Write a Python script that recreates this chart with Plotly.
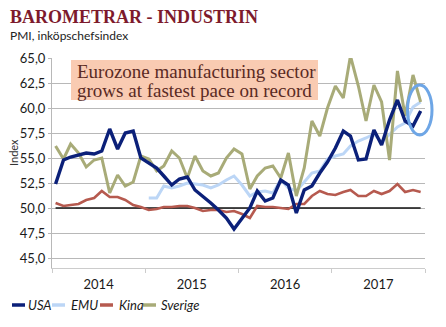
import pandas as pd
import plotly.graph_objects as go

# Monthly PMI readings, Jan 2014 - Dec 2017
months = pd.date_range("2014-01-01", periods=48, freq="MS") + pd.Timedelta(days=14)

usa = [52.4, 54.8, 55.1, 55.3, 55.5, 55.4, 55.7, 57.9, 55.9, 57.5, 57.7, 55.0,
       54.5, 54.0, 53.2, 52.3, 52.9, 53.1, 51.8, 51.2, 50.5, 49.8, 49.0, 47.9,
       48.9, 50.0, 51.7, 50.7, 51.0, 52.8, 52.3, 49.5, 51.8, 52.2, 53.5, 54.6,
       56.0, 57.7, 57.2, 54.8, 54.9, 57.8, 56.3, 58.8, 60.8, 58.7, 58.2, 59.7]

emu = [None] * 12 + [
       51.0, 51.0, 52.2, 52.0, 52.2, 52.5, 52.4, 52.3, 52.0, 52.3, 52.8, 53.2,
       52.3, 51.2, 51.6, 51.7, 51.5, 52.8, 52.0, 51.7, 52.6, 53.5, 53.7, 54.9,
       55.2, 55.4, 56.2, 56.7, 57.0, 57.4, 56.6, 57.4, 58.1, 58.5, 60.1, 60.6]

kina = [50.5, 50.2, 50.3, 50.4, 50.8, 51.0, 51.7, 51.1, 51.1, 50.8, 50.3, 50.1,
        49.8, 49.9, 50.1, 50.1, 50.2, 50.2, 50.0, 49.7, 49.8, 49.8, 49.6, 49.7,
        49.4, 49.0, 50.2, 50.1, 50.1, 50.0, 49.9, 50.4, 50.4, 51.2, 51.7, 51.4,
        51.3, 51.6, 51.8, 51.2, 51.2, 51.7, 51.4, 51.7, 52.4, 51.6, 51.8, 51.6]

sverige = [56.2, 54.9, 56.4, 55.5, 54.1, 54.8, 55.0, 51.5, 53.3, 52.2, 52.6, 55.2,
           54.9, 53.7, 54.2, 55.7, 55.0, 53.0, 55.2, 53.7, 53.2, 53.5, 55.0, 55.9,
           55.4, 51.9, 53.2, 54.0, 54.2, 53.0, 55.5, 51.2, 54.0, 58.7, 57.2, 60.0,
           62.2, 61.0, 65.2, 62.2, 58.7, 62.3, 60.6, 54.8, 63.7, 59.2, 63.3, 60.6]

threshold = [50.0] * 48

series_names = ["USA", "EMU", "Kina", "Sverige"]
series_colors = {"USA": "#0b2079", "EMU": "#bcd6f6", "Kina": "#b65a4f", "Sverige": "#a8ab78"}
y_ticks = [45.0, 47.5, 50.0, 52.5, 55.0, 57.5, 60.0, 62.5, 65.0]

# plot area in pixels (used to place the overlay texts)
W, H = 446, 327
L, R, T, B = 52, 21, 58, 59
PW, PH = W - L - R, H - T - B


def px(x):
    return (x - L) / PW


def py(y):
    return (H - B - y) / PH


fig = go.Figure()

fig.add_trace(go.Scatter(x=months, y=threshold, mode="lines",
                         line=dict(color="#111111", width=1.3),
                         hoverinfo="skip", showlegend=False))
for name, vals, width in [("Kina", kina, 2.6), ("EMU", emu, 3.0),
                          ("Sverige", sverige, 3.0), ("USA", usa, 3.4)]:
    fig.add_trace(go.Scatter(x=months, y=vals, name=name, mode="lines",
                             line=dict(color=series_colors[name], width=width),
                             showlegend=False))

fig.update_layout(
    width=W, height=H,
    margin=dict(l=L, r=R, t=T, b=B),
    paper_bgcolor="white", plot_bgcolor="white",
    separators=", ",
    font=dict(family="Lato", size=13, color="#222222"),
    xaxis=dict(type="date", range=["2014-01-01", "2018-01-01"],
               tick0="2014-01-01", dtick="M12", tickformat="%Y",
               ticklabelmode="period", showgrid=False,
               showline=True, linecolor="#cccccc", linewidth=1,
               ticks="outside", ticklen=4, tickcolor="#cccccc",
               tickfont=dict(family="Lato", size=13, color="#1a1a1a")),
    yaxis=dict(range=[44, 65], tickvals=y_ticks, tickformat=".1f",
               showgrid=True, gridcolor="#b8b8b8", gridwidth=1,
               zeroline=False, showline=True, linecolor="#b8b8b8",
               ticks="outside", ticklen=3, tickcolor="#b8b8b8",
               tickfont=dict(family="Lato", size=13, color="#1a1a1a")),
)

annotations = [
    dict(text="<b>BAROMETRAR - INDUSTRIN</b>", x=px(8), y=py(17),
         xanchor="left", yanchor="middle",
         font=dict(family="Liberation Serif", size=18, color="#7d1a2c")),
    dict(text="PMI, inköpschefsindex", x=px(8), y=py(36),
         xanchor="left", yanchor="middle",
         font=dict(family="Lato", size=12, color="#222222")),
    dict(text="Index", x=px(13), y=py(153), textangle=-90,
         xanchor="center", yanchor="middle",
         font=dict(family="Lato", size=11, color="#333333")),
    dict(text="Eurozone manufacturing sector", x=px(75), y=py(71.5),
         xanchor="left", yanchor="middle",
         font=dict(family="Liberation Serif", size=19, color="#5a2a24")),
    dict(text="grows at fastest pace on record", x=px(75), y=py(90.5),
         xanchor="left", yanchor="middle",
         font=dict(family="Liberation Serif", size=19, color="#5a2a24")),
]

shapes = [
    dict(type="rect", xref="paper", yref="paper", layer="above",
         x0=px(71), x1=px(318), y0=py(100), y1=py(60),
         fillcolor="#f9cbb2", line=dict(width=0)),
    dict(type="circle", xref="paper", yref="paper", layer="above",
         x0=px(407.5), x1=px(432), y0=py(135), y1=py(85),
         line=dict(color="#6ea6e6", width=3)),
]

# legend row below the axis
legend_pos = {"USA": (12, 26), "EMU": (52, 69), "Kina": (100, 117), "Sverige": (143, 159)}
for name in series_names:
    sx, tx = legend_pos[name]
    shapes.append(dict(type="line", xref="paper", yref="paper",
                       x0=px(sx), x1=px(sx + 13), y0=py(305), y1=py(305),
                       line=dict(color=series_colors[name], width=3.5)))
    annotations.append(dict(text=f"<i>{name}</i>", x=px(tx), y=py(305),
                            xanchor="left", yanchor="middle",
                            font=dict(family="Lato", size=13, color="#1a1a1a")))

for a in annotations:
    a.update(xref="paper", yref="paper", showarrow=False)

fig.update_layout(annotations=annotations, shapes=shapes)

fig.write_html("out.html")
